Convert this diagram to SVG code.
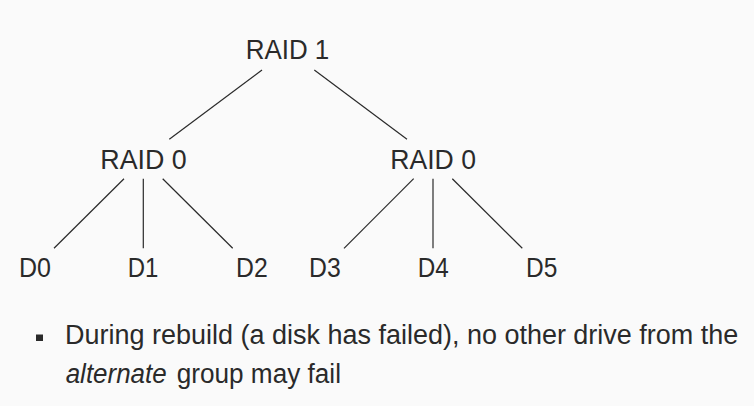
<svg xmlns="http://www.w3.org/2000/svg" width="754" height="406" viewBox="0 0 754 406">
<style>
.t{font-family:"Liberation Sans","DejaVu Sans",sans-serif;font-size:27px;fill:#2a2a2a}
.c line{stroke:#2a2a2a;stroke-width:1.2}
</style>
<rect width="754" height="406" fill="#fafafa"/>
<g id="connectors" class="c">
<line x1="262" y1="70" x2="169.3" y2="139.3"/>
<line x1="314.3" y1="70" x2="407" y2="139.3"/>
<line x1="124" y1="178.7" x2="54" y2="248.3"/>
<line x1="143.3" y1="178.7" x2="143.3" y2="248.3"/>
<line x1="162.7" y1="178.7" x2="232.7" y2="248.3"/>
<line x1="413.7" y1="178.7" x2="344" y2="248.3"/>
<line x1="433" y1="178.7" x2="433" y2="248.3"/>
<line x1="452.3" y1="178.7" x2="522.3" y2="248.3"/>
</g>
<g id="raid1"><text class="t" x="245.7" y="59.3" textLength="83.6" lengthAdjust="spacingAndGlyphs">RAID 1</text></g>
<g id="raid0-left"><text class="t" x="100.3" y="169" textLength="86.4" lengthAdjust="spacingAndGlyphs">RAID 0</text></g>
<g id="raid0-right"><text class="t" x="390.3" y="169" textLength="85.7" lengthAdjust="spacingAndGlyphs">RAID 0</text></g>
<g id="d0"><text class="t" x="19" y="277.3" textLength="32" lengthAdjust="spacingAndGlyphs">D0</text></g>
<g id="d1"><text class="t" x="127.7" y="277.3" textLength="30.6" lengthAdjust="spacingAndGlyphs">D1</text></g>
<g id="d2"><text class="t" x="236" y="277.3" textLength="31.7" lengthAdjust="spacingAndGlyphs">D2</text></g>
<g id="d3"><text class="t" x="309" y="277.3" textLength="31.7" lengthAdjust="spacingAndGlyphs">D3</text></g>
<g id="d4"><text class="t" x="417.7" y="277.3" textLength="31" lengthAdjust="spacingAndGlyphs">D4</text></g>
<g id="d5"><text class="t" x="526" y="277.3" textLength="31.3" lengthAdjust="spacingAndGlyphs">D5</text></g>
<g id="bullet">
<rect x="36" y="334.5" width="7" height="6.5" fill="#2a2a2a"/>
<text class="t" x="65" y="344.3" textLength="673.3" lengthAdjust="spacingAndGlyphs">During rebuild (a disk has failed), no other drive from the</text>
<text class="t" x="65.7" y="383.3" textLength="101" lengthAdjust="spacingAndGlyphs" font-style="italic">alternate</text>
<text class="t" x="176.7" y="383.3" textLength="164.3" lengthAdjust="spacingAndGlyphs">group may fail</text>
</g>
</svg>
